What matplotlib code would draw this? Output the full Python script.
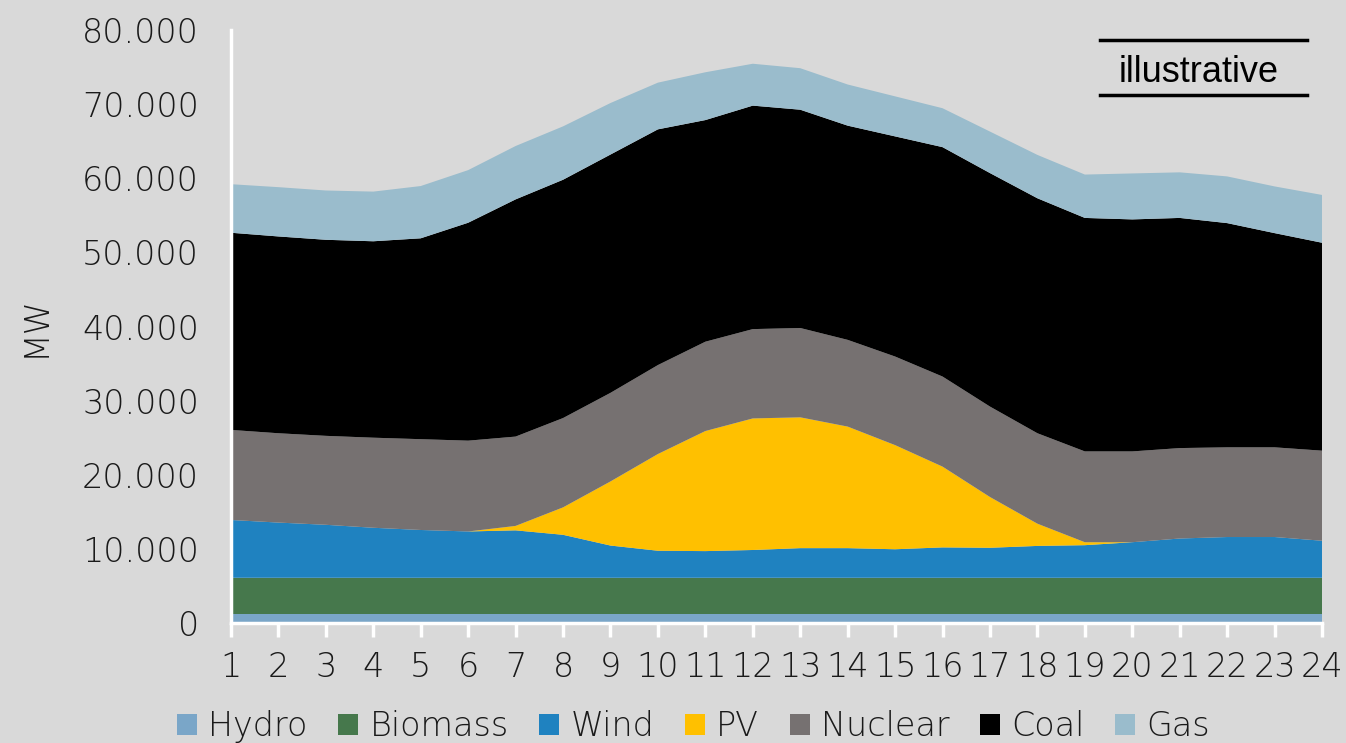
import matplotlib
matplotlib.use("Agg")
import matplotlib.pyplot as plt
from matplotlib.ticker import FuncFormatter, MultipleLocator

# hourly generation by source (MW)
hours = list(range(1, 25))
hydro = [1200] * 24
biomass = [4900] * 24
wind = [7800, 7450, 7150, 6750, 6450, 6250, 6400, 5800, 4350, 3650, 3600, 3750,
        4000, 4000, 3850, 4100, 4050, 4300, 4400, 4800, 5300, 5500, 5500, 5000]
pv = [0, 0, 0, 0, 0, 0, 600, 3700, 8650, 13050, 16200, 17750,
      17650, 16400, 14050, 10900, 6850, 3000, 400, 0, 0, 0, 0, 0]
nuclear = [12150, 12050, 12000, 12150, 12250, 12250, 12050, 12050, 11950, 12000, 12050, 12050,
           12050, 11700, 11950, 12150, 12200, 12200, 12250, 12250, 12200, 12100, 12100, 12150]
coal = [26600, 26550, 26450, 26500, 27100, 29400, 32000, 32150, 32150, 31800, 29900, 30150,
        29450, 28900, 29700, 30950, 31500, 31700, 31500, 31300, 31050, 30250, 28900, 28050]
gas = [6550, 6650, 6650, 6700, 7050, 7100, 7200, 7200, 6950, 6300, 6450, 5650,
       5600, 5550, 5400, 5250, 5600, 5850, 5850, 6200, 6150, 6300, 6300, 6450]

labels = ["Hydro", "Biomass", "Wind", "PV", "Nuclear", "Coal", "Gas"]
colors = ["#7aa6c8", "#46784c", "#1f82c0", "#ffc000", "#767171", "#000000", "#9abccc"]

bg = "#d9d9d9"
txt = "#1a1a1a"
plt.rcParams["font.family"] = ["DejaVu Sans"]

fig = plt.figure(figsize=(13.46, 7.43), dpi=100, facecolor=bg)
ax = fig.add_axes([0.1716, 0.1615, 0.8106, 0.7981], facecolor=bg)

ax.stackplot(hours, hydro, biomass, wind, pv, nuclear, coal, gas,
             labels=labels, colors=colors, linewidth=0)

ax.set_xlim(1, 24)
ax.set_ylim(0, 80000)
ax.set_xticks(hours)
ax.yaxis.set_major_locator(MultipleLocator(10000))
ax.yaxis.set_major_formatter(FuncFormatter(lambda v, p: f"{v:,.0f}".replace(",", ".")))

for s in ["top", "right"]:
    ax.spines[s].set_visible(False)
for s in ["left", "bottom"]:
    ax.spines[s].set_color("white")
    ax.spines[s].set_linewidth(2.5)
    ax.spines[s].set_zorder(5)

ax.tick_params(axis="x", direction="out", length=10, width=2.5, color="white",
               labelsize=24, labelcolor=txt, pad=10)
ax.tick_params(axis="y", length=0, labelsize=24, labelcolor=txt, pad=23)
for lab in ax.get_xticklabels() + ax.get_yticklabels():
    lab.set_fontweight("light")

ax.set_ylabel("MW", fontsize=24, color=txt, fontweight="light")
ax.yaxis.set_label_coords(-0.164, 0.5)

leg = fig.legend(loc="center", bbox_to_anchor=(0.5152, 0.022), ncol=7, frameon=False,
                 fontsize=24, handlelength=0.6, handleheight=0.6, handletextpad=0.33,
                 columnspacing=0.92, borderaxespad=0)
for t in leg.get_texts():
    t.set_color(txt)
    t.set_fontweight("light")

# "illustrative" stamp in the top right corner
fig.text(0.8904, 0.8896, "illustrative", fontsize=26, family="Liberation Sans",
         color="black", ha="center", va="baseline")
fig.add_artist(plt.Line2D([0.8175, 0.971], [0.946, 0.946], color="black", lw=2.5))
fig.add_artist(plt.Line2D([0.8175, 0.971], [0.872, 0.872], color="black", lw=2.5))

fig.savefig("out.png", dpi=100, facecolor=bg)
